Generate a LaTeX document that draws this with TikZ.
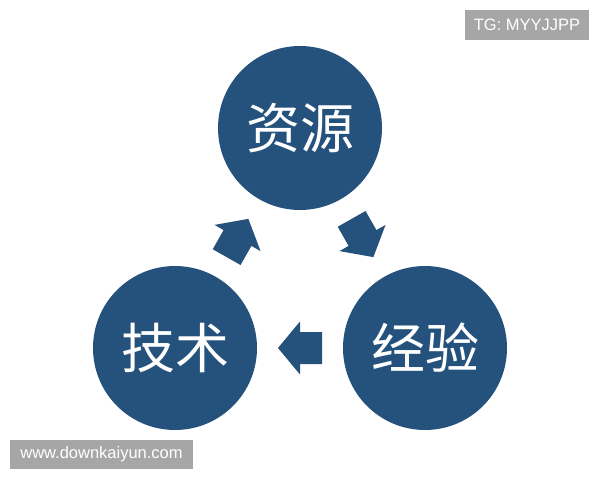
\documentclass[tikz,border=0pt]{standalone}
\usepackage{fontspec}
\newfontfamily\cjk{Noto Sans CJK SC}
\newfontfamily\markfont{Liberation Sans}
\usepackage{tikz}
\usetikzlibrary{calc}
\definecolor{circblue}{RGB}{37,82,124}
\definecolor{markgray}{RGB}{166,166,166}

\begin{document}
\begin{tikzpicture}[x=1pt, y=1pt,
  circ/.style={circle, fill=circblue, minimum size=164pt, inner sep=0pt,
    text=white, font=\cjk\fontsize{54}{54}\selectfont},
  markbox/.style={fill=markgray, text=white, inner sep=0pt,
    font=\markfont\fontsize{16.5}{16.5}\selectfont},
  blockarrow/.style={fill=circblue}]
\useasboundingbox (0,0) rectangle (600,480);
% circles
\node[circ] (ziyuan) at (300,352) {资源};
\node[circ] (jishu) at (175,132) {技术};
\node[circ] (jingyan) at (425,132) {经验};
% block arrows between the circles
\foreach \from/\to in {jishu/ziyuan, ziyuan/jingyan, jingyan/jishu}
\fill let \p1 = ($(\to)-(\from)$), \n1 = {atan2(\y1,\x1)} in
  [blockarrow, shift={($(\from)!0.5!(\to)$)}, rotate=\n1]
  (-22,-16) -- (0,-16) -- (0,-26.5) -- (22,0) -- (0,26.5) -- (0,16) -- (-22,16) -- cycle;
% marks
\node[markbox, minimum width=124pt, minimum height=30pt] (tgmark) at (527,455) {TG: MYYJJPP};
\node[markbox, minimum width=183pt, minimum height=29pt] (webmark) at (101.5,25.5) {www.downkaiyun.com};
\end{tikzpicture}
\end{document}
